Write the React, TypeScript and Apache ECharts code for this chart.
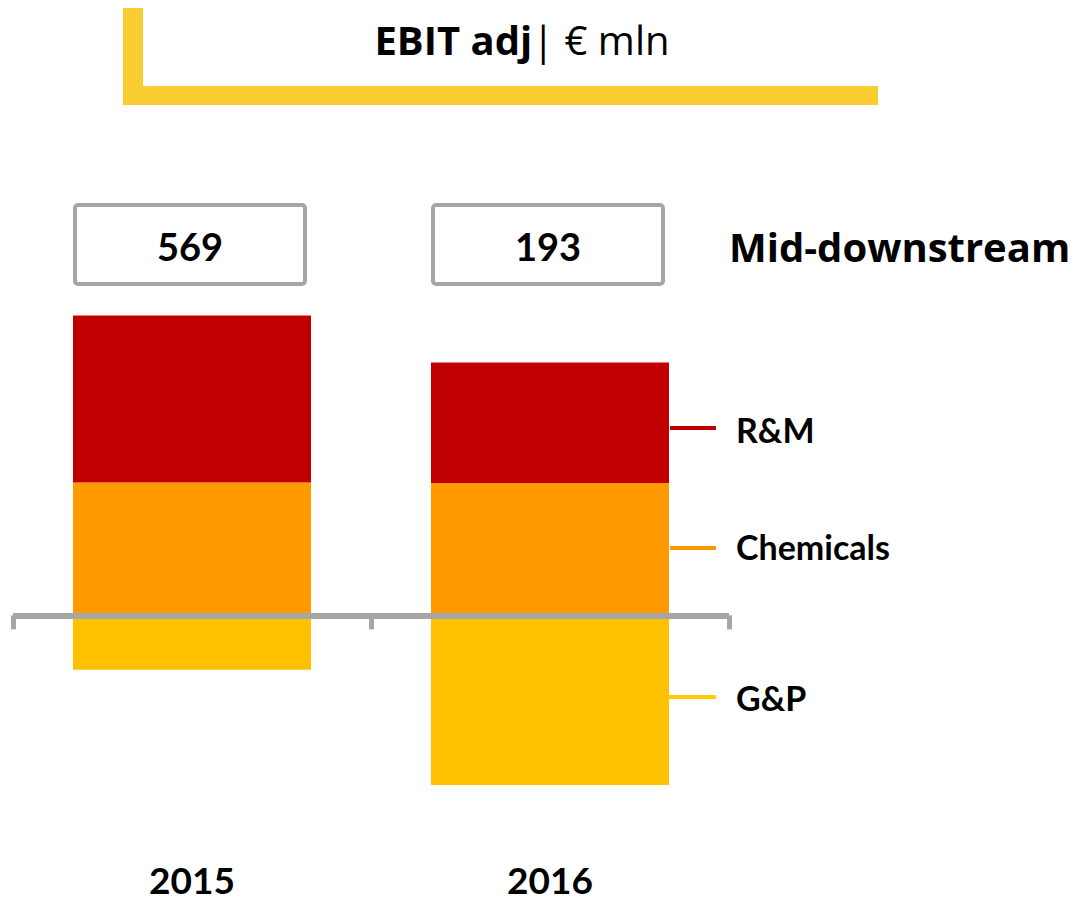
import React, { useEffect, useRef } from "react";
import * as echarts from "echarts";

const years = ["2015", "2016"];
const rmValues = [387, 279];
const chemValues = [308, 307];
const gpValues = [-126, -393];
const totals = [569, 193];
const seriesNames = ["R&M", "Chemicals", "G&P"];
const seriesColors = ["#C00000", "#FF9900", "#FFC000"];
const titleBold = "EBIT adj";
const titleRest = "| € mln";
const groupLabel = "Mid-downstream";

const FONT = "Lato, 'Open Sans', sans-serif";
const FONT2 = "'Open Sans', Lato, sans-serif";

export default function App() {
  const ref = useRef<HTMLDivElement>(null);
  useEffect(() => {
    if (!ref.current) return;
    const chart = echarts.init(ref.current, null, { renderer: "svg" });
    const option: any = {
      animation: false,
      backgroundColor: "#ffffff",
      textStyle: { fontFamily: FONT },
      grid: {
        left: 13,
        right: 350,
        top: 300,
        height: 500,
        containLabel: false,
        outerBoundsMode: "none",
      },
      xAxis: {
        type: "category",
        data: years,
        z: 10,
        axisLine: { onZero: true, lineStyle: { color: "#A6A6A6", width: 6, cap: "butt" } },
        axisTick: { show: true, length: 14, lineStyle: { color: "#A6A6A6", width: 5 } },
        axisLabel: {
          margin: 62,
          lineHeight: 34,
          color: "#000",
          fontSize: 37,
          fontWeight: "bold",
          fontFamily: FONT,
        },
      },
      yAxis: {
        type: "value",
        min: -428,
        max: 731,
        show: false,
        splitLine: { show: false },
      },
      series: [
        {
          name: seriesNames[2],
          type: "bar",
          stack: "total",
          data: gpValues,
          barWidth: 238,
          itemStyle: { color: seriesColors[2] },
        },
        {
          name: seriesNames[1],
          type: "bar",
          stack: "total",
          data: chemValues,
          barWidth: 238,
          itemStyle: { color: seriesColors[1] },
        },
        {
          name: seriesNames[0],
          type: "bar",
          stack: "total",
          data: rmValues,
          barWidth: 238,
          itemStyle: { color: seriesColors[0] },
        },
        {
          type: "custom",
          data: totals.map((t, i) => [i, t]),
          z: 20,
          renderItem: (params: any, api: any) => {
            const x = api.coord([api.value(0), 0])[0] - 2;
            return {
              type: "group",
              children: [
                {
                  type: "rect",
                  shape: { x: x - 115, y: 205, width: 230, height: 79, r: 3 },
                  style: { fill: "#ffffff", stroke: "#A6A6A6", lineWidth: 4 },
                },
                {
                  type: "text",
                  style: {
                    text: String(api.value(1)),
                    x: x,
                    y: 246,
                    align: "center",
                    verticalAlign: "middle",
                    fontSize: 38,
                    fontWeight: "bold",
                    fontFamily: FONT,
                    fill: "#000",
                  },
                },
              ],
            };
          },
        },
      ],
      graphic: [
        { type: "rect", shape: { x: 123, y: 8, width: 20, height: 97 }, style: { fill: "#FACD32" } },
        { type: "rect", shape: { x: 123, y: 86, width: 755, height: 19 }, style: { fill: "#FACD32" } },
        {
          type: "text",
          style: {
            text: `{b|${titleBold}}{r|${titleRest}}`,
            x: 522,
            y: 39,
            align: "center",
            verticalAlign: "middle",
            rich: {
              b: { fontSize: 40, fontWeight: "bold", fontFamily: FONT2, fill: "#000" },
              r: { fontSize: 40, fontWeight: "normal", fontFamily: FONT2, fill: "#000" },
            },
          },
        },
        {
          type: "text",
          style: {
            text: groupLabel,
            x: 729,
            y: 246,
            verticalAlign: "middle",
            fontSize: 40,
            fontWeight: "bold",
            fontFamily: FONT2,
            fill: "#000",
          },
        },
        { type: "line", shape: { x1: 670, y1: 428, x2: 716, y2: 428 }, style: { stroke: seriesColors[0], lineWidth: 4 } },
        { type: "line", shape: { x1: 670, y1: 548, x2: 716, y2: 548 }, style: { stroke: seriesColors[1], lineWidth: 4 } },
        { type: "line", shape: { x1: 646, y1: 697, x2: 716, y2: 697 }, style: { stroke: "#FFCC00", lineWidth: 4 } },
        {
          type: "text",
          style: { text: seriesNames[0], x: 736, y: 429, verticalAlign: "middle", fontSize: 34, fontWeight: "bold", fontFamily: FONT, fill: "#000" },
        },
        {
          type: "text",
          style: { text: seriesNames[1], x: 736, y: 546, verticalAlign: "middle", fontSize: 34, fontWeight: "bold", fontFamily: FONT, fill: "#000" },
        },
        {
          type: "text",
          style: { text: seriesNames[2], x: 736, y: 697, verticalAlign: "middle", fontSize: 34, fontWeight: "bold", fontFamily: FONT, fill: "#000" },
        },
      ],
    };
    chart.setOption(option);
    return () => chart.dispose();
  }, []);
  return (
    <div
      ref={ref}
      style={{ position: "absolute", left: 0, top: 0, width: 1079, height: 904 }}
    />
  );
}
